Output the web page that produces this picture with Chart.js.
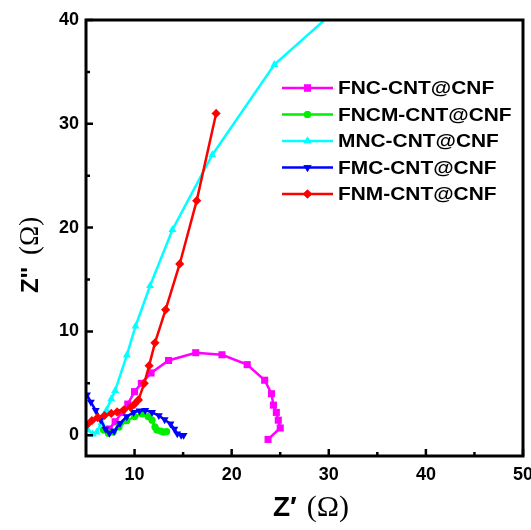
<!DOCTYPE html>
<html>
<head>
<meta charset="utf-8">
<script src="https://cdn.jsdelivr.net/npm/chart.js@4.4.0/dist/chart.umd.min.js"></script>
<style>
  html, body { margin: 0; padding: 0; background: #fff; }
  #wrap { width: 531px; height: 530px; position: relative; }
</style>
</head>
<body>
<div id="wrap"><canvas id="nyquist-chart"></canvas></div>
<script>
// Nyquist data: Z' (ohm) and Z'' (ohm)
const fncX  = [7.4, 8.0, 8.7, 9.3, 10.0, 10.7, 11.7, 13.5, 16.3, 19.0, 21.6, 23.4, 24.1, 24.3, 24.6, 24.8, 25.0, 23.75];
const fncY  = [0.6, 1.3, 2.2, 3.0, 4.2, 5.0, 6.0, 7.2, 7.95, 7.75, 6.8, 5.3, 4.0, 2.9, 2.2, 1.45, 0.7, -0.4];

const fncmX = [6.8, 7.3, 7.8, 8.4, 9.2, 10.0, 10.8, 11.4, 11.8, 12.1, 12.3, 12.7, 13.0, 13.3];
const fncmY = [0.5, 0.2, 0.3, 0.8, 1.4, 1.8, 2.05, 1.8, 1.45, 0.8, 0.5, 0.4, 0.3, 0.35];

const mncX  = [5.2, 5.7, 6.1, 6.6, 7.1, 7.6, 8.0, 9.2, 10.1, 11.6, 13.9, 18.0, 24.4, 31.0];
const mncY  = [0.5, 0.1, 0.3, 1.2, 2.4, 3.5, 4.3, 7.7, 10.5, 14.4, 19.8, 27.0, 35.7, 41.2];

const fmcX  = [5.1, 5.5, 6.0, 6.5, 7.0, 7.4, 7.9, 8.5, 9.2, 9.9, 10.5, 11.1, 11.8, 12.5, 13.1, 13.7, 14.1, 14.4, 14.8, 15.05];
const fmcY  = [3.9, 3.2, 2.4, 1.5, 0.6, 0.2, 0.4, 1.15, 1.8, 2.2, 2.35, 2.4, 2.2, 1.9, 1.5, 1.1, 0.6, 0.15, 0.0, 0.0];

const fnmX  = [5.1, 5.6, 6.2, 6.9, 7.6, 8.2, 8.9, 9.6, 10.0, 10.4, 11.0, 11.5, 12.1, 13.2, 14.65, 16.4, 18.4];
const fnmY  = [1.0, 1.4, 1.7, 1.9, 2.1, 2.25, 2.45, 2.7, 3.0, 3.4, 5.0, 6.7, 8.9, 12.1, 16.5, 22.6, 31.0];

const seriesLabels = ['FNC-CNT@CNF', 'FNCM-CNT@CNF', 'MNC-CNT@CNF', 'FMC-CNT@CNF', 'FNM-CNT@CNF'];
const seriesColors = ['#ff00ff', '#00ee00', '#00ffff', '#0000ff', '#ff0000'];
const seriesMarkers = ['rect', 'circle', 'triangle', 'triangle', 'rectRot'];
const markerRotation = [0, 0, 0, 180, 0];

const xTicks = [10, 20, 30, 40, 50];
const yTicks = [0, 10, 20, 30, 40];

function toPoints(xs, ys) {
  return xs.map((x, i) => ({ x: x, y: ys[i] }));
}

const allSeries = [
  toPoints(fncX, fncY),
  toPoints(fncmX, fncmY),
  toPoints(mncX, mncY),
  toPoints(fmcX, fmcY),
  toPoints(fnmX, fnmY)
];

const markerSize = { rect: 5, circle: 3.6, triangle: 4.6, rectRot: 4.6 };

const datasets = allSeries.map((pts, i) => ({
  label: seriesLabels[i],
  data: pts,
  showLine: true,
  borderColor: seriesColors[i],
  backgroundColor: seriesColors[i],
  borderWidth: 2.5,
  pointStyle: seriesMarkers[i],
  pointRotation: markerRotation[i],
  pointRadius: markerSize[seriesMarkers[i]],
  pointBorderWidth: 0,
  tension: 0,
  clip: 0,
  order: 5 - i   // later series painted on top, as in the original
}));

const FONT_SANS = 'Arial, "Liberation Sans", "DejaVu Sans", sans-serif';
const FONT_SERIF = '"Times New Roman", "Liberation Serif", "DejaVu Serif", serif';

// frame, inward ticks, axis titles and legend
const framePlugin = {
  id: 'frame',
  afterDatasetsDraw(chart) {
    const ctx = chart.ctx;
    const a = chart.chartArea;
    const xs = chart.scales.x;
    const ys = chart.scales.y;
    ctx.save();
    ctx.strokeStyle = '#000';
    ctx.lineWidth = 3;
    ctx.strokeRect(a.left, a.top, a.right - a.left, a.bottom - a.top);

    ctx.lineWidth = 2.5;
    ctx.beginPath();
    yTicks.forEach(v => {
      const py = ys.getPixelForValue(v);
      ctx.moveTo(a.left, py); ctx.lineTo(a.left + 7, py);
      const m = v + 5;
      if (m < ys.max) {
        const pm = ys.getPixelForValue(m);
        ctx.moveTo(a.left, pm); ctx.lineTo(a.left + 4, pm);
      }
    });
    xTicks.forEach(v => {
      const px = xs.getPixelForValue(v);
      ctx.moveTo(px, a.bottom); ctx.lineTo(px, a.bottom - 7);
      const m = v + 5;
      if (m < xs.max) {
        const pm = xs.getPixelForValue(m);
        ctx.moveTo(pm, a.bottom); ctx.lineTo(pm, a.bottom - 4);
      }
    });
    ctx.stroke();
    ctx.restore();
  },
  afterDraw(chart) {
    const ctx = chart.ctx;
    ctx.save();
    ctx.fillStyle = '#000';
    ctx.textBaseline = 'alphabetic';

    // x title: Z' (Ω)
    ctx.textAlign = 'left';
    ctx.font = 'bold 28px ' + FONT_SANS;
    ctx.fillText('Z\u2032', 273, 516);
    const zw = ctx.measureText('Z\u2032').width;
    ctx.font = '30px ' + FONT_SERIF;
    ctx.fillText('(\u03A9)', 273 + zw + 10, 516);

    // y title: Z'' (Ω), rotated
    ctx.translate(38, 293);
    ctx.rotate(-Math.PI / 2);
    ctx.font = 'bold 24px ' + FONT_SANS;
    ctx.fillText('Z\'\'', 0, 0);
    const zw2 = ctx.measureText('Z\'\'').width;
    ctx.font = '27px ' + FONT_SERIF;
    ctx.fillText('(\u03A9)', zw2 + 12, 0);
    ctx.setTransform(1, 0, 0, 1, 0, 0);

    // legend
    const rowY = [88, 114.5, 141, 167.5, 194];
    seriesLabels.forEach((lab, i) => {
      const y = rowY[i];
      ctx.strokeStyle = seriesColors[i];
      ctx.lineWidth = 2.5;
      ctx.beginPath();
      ctx.moveTo(282, y); ctx.lineTo(333, y);
      ctx.stroke();
      ctx.fillStyle = seriesColors[i];
      Chart.helpers.drawPoint(ctx, {
        pointStyle: seriesMarkers[i],
        rotation: markerRotation[i],
        radius: markerSize[seriesMarkers[i]],
        borderWidth: 0
      }, 307.5, y);
      ctx.fill();
      ctx.fillStyle = '#000';
      ctx.save();
      ctx.translate(338, y);
      ctx.scale(1.1, 1);
      ctx.font = 'bold 19px ' + FONT_SANS;
      ctx.textAlign = 'left';
      ctx.textBaseline = 'middle';
      ctx.fillText(lab, 0, 1);
      ctx.restore();
    });
    ctx.restore();
  }
};

const tickFont = { family: FONT_SANS, size: 18, weight: 'bold' };

new Chart(document.getElementById('nyquist-chart'), {
  type: 'scatter',
  data: { datasets: datasets },
  options: {
    responsive: true,
    maintainAspectRatio: false,
    animation: false,
    layout: { padding: { top: 20, right: 8, left: 0, bottom: 0 } },
    plugins: {
      legend: { display: false },
      tooltip: { enabled: false }
    },
    scales: {
      x: {
        type: 'linear',
        min: 5,
        max: 50,
        grid: { display: false, drawTicks: false },
        border: { display: false },
        ticks: { color: '#000', font: tickFont, padding: 8, maxRotation: 0 },
        afterBuildTicks: s => { s.ticks = xTicks.map(v => ({ value: v })); },
        afterFit: s => { s.height = 74; s.paddingLeft = 0; s.paddingRight = 0; }
      },
      y: {
        type: 'linear',
        min: -2,
        max: 40,
        grid: { display: false, drawTicks: false },
        border: { display: false },
        ticks: { color: '#000', font: tickFont, padding: 7 },
        afterBuildTicks: s => { s.ticks = yTicks.map(v => ({ value: v })); },
        afterFit: s => { s.width = 86; s.paddingTop = 0; s.paddingBottom = 0; }
      }
    }
  },
  plugins: [framePlugin]
});
</script>
</body>
</html>
